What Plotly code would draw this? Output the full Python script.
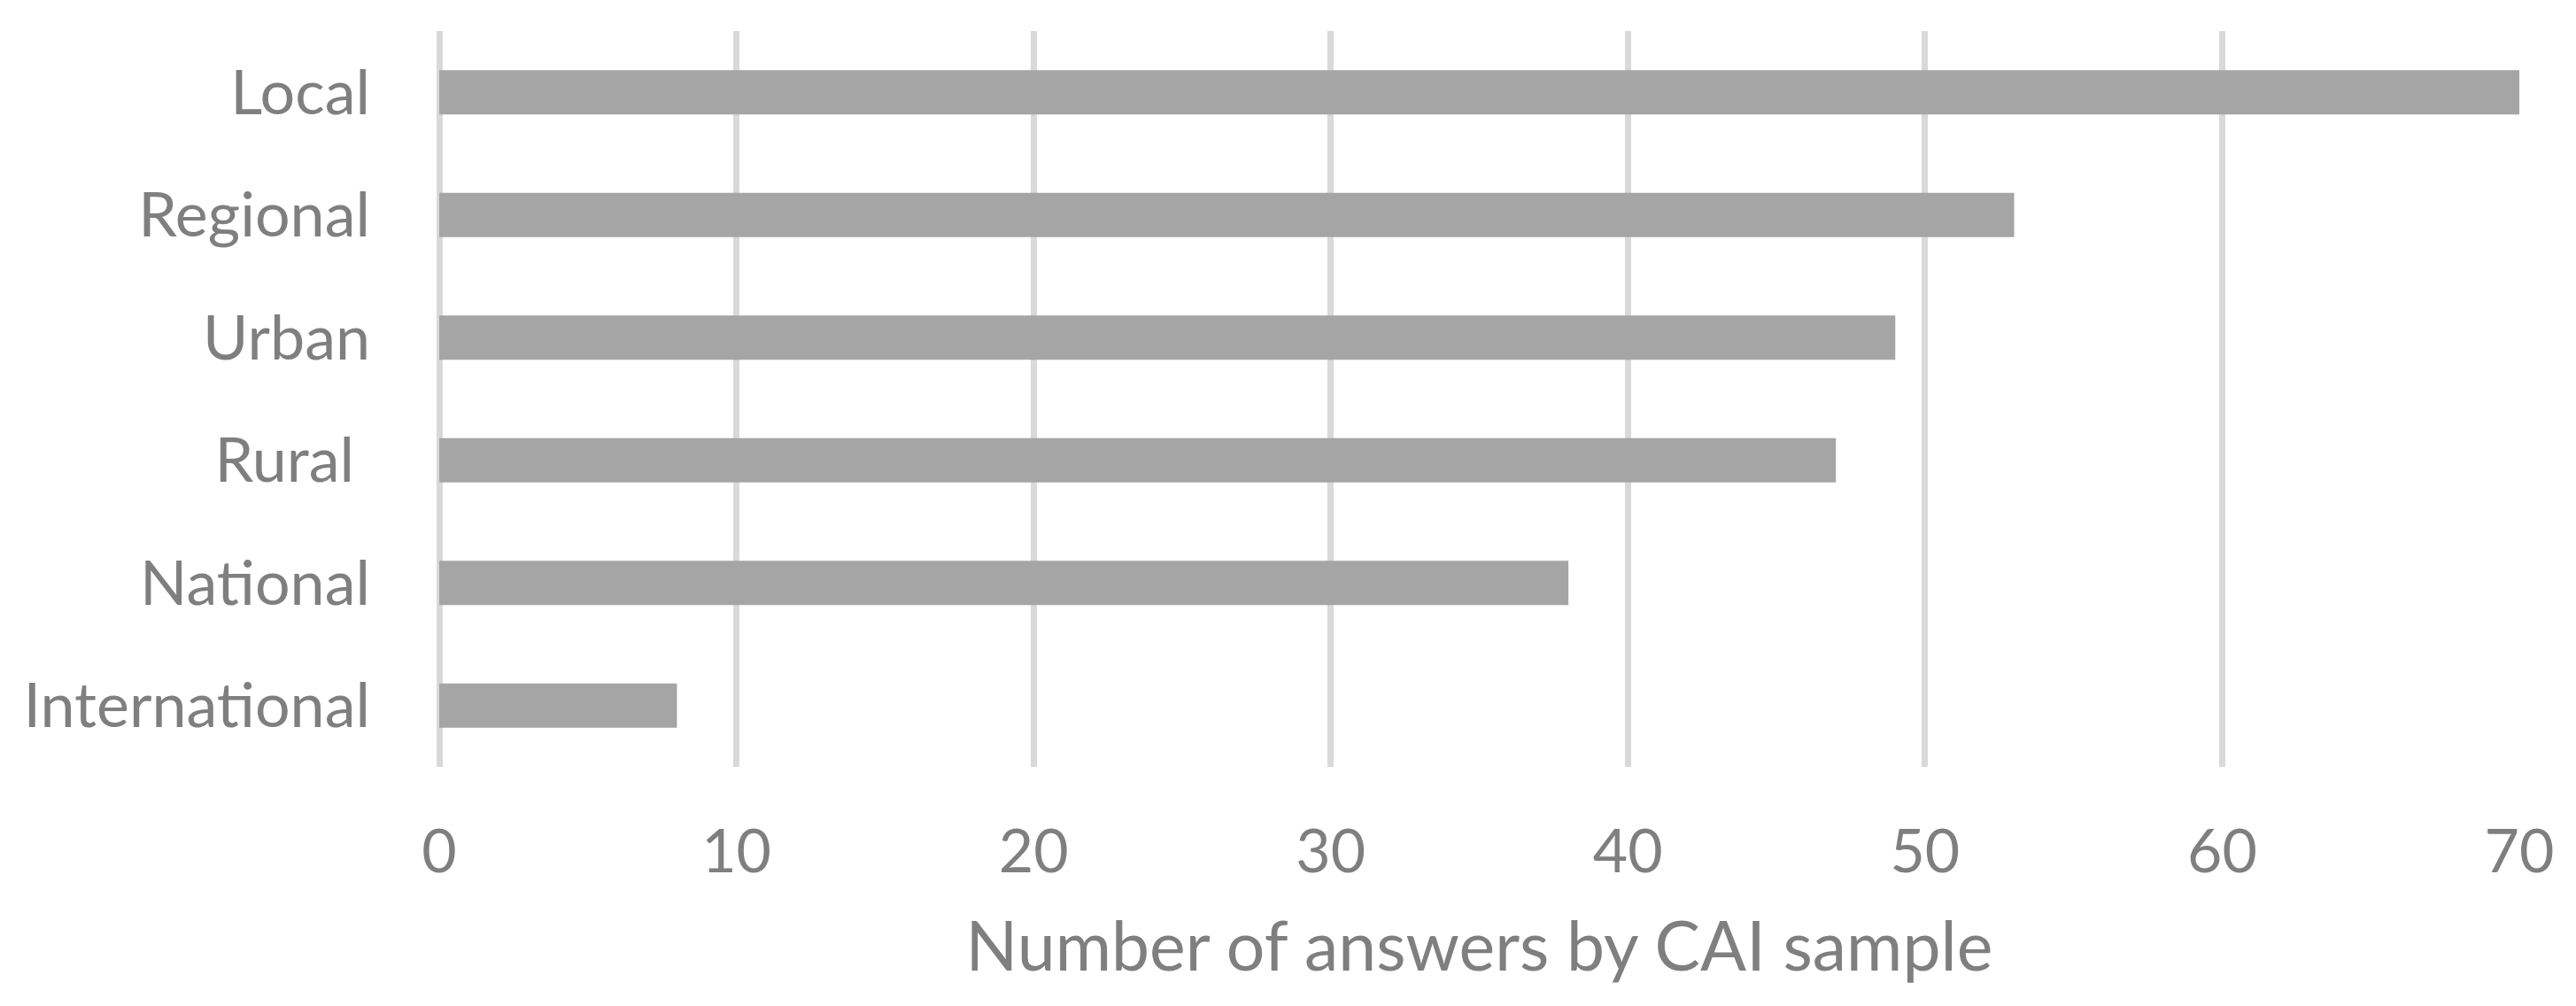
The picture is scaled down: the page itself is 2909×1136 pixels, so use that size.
import plotly.graph_objects as go

categories = ["International", "National", "Rural\u00a0", "Urban", "Regional", "Local"]
answers = [8, 38, 47, 49, 53, 70]
tick_values = [0, 10, 20, 30, 40, 50, 60, 70]

TEXT = "#7f7f7f"
BAR = "#a5a5a5"
GRID = "#d9d9d9"
FONT = "Lato"

fig = go.Figure()
fig.add_trace(go.Bar(x=answers, y=categories, orientation="h",
                     marker={"color": BAR, "line": {"width": 0}},
                     width=0.36, showlegend=False))

fig.update_layout(width=2909, height=1136, plot_bgcolor="white", paper_bgcolor="white",
                  margin={"l": 488, "r": 72, "t": 27, "b": 278},
                  font={"family": FONT, "color": TEXT, "size": 68},
                  bargap=0.64)
fig.update_xaxes(range=[0, 70], tickvals=tick_values, showgrid=True,
                 gridcolor=GRID, gridwidth=7,
                 zeroline=True, zerolinecolor=GRID, zerolinewidth=7,
                 showline=False, automargin=False,
                 ticks="", ticklabelstandoff=50,
                 tickfont={"size": 68, "color": TEXT},
                 title={"text": "Number of answers by CAI sample",
                        "font": {"size": 77, "color": TEXT}, "standoff": 44})
fig.update_yaxes(range=[-0.5, 5.5], showgrid=False, zeroline=False, showline=False,
                 automargin=False, ticks="", ticklabelstandoff=77,
                 tickfont={"size": 70, "color": TEXT})

fig.write_html("out.html")
